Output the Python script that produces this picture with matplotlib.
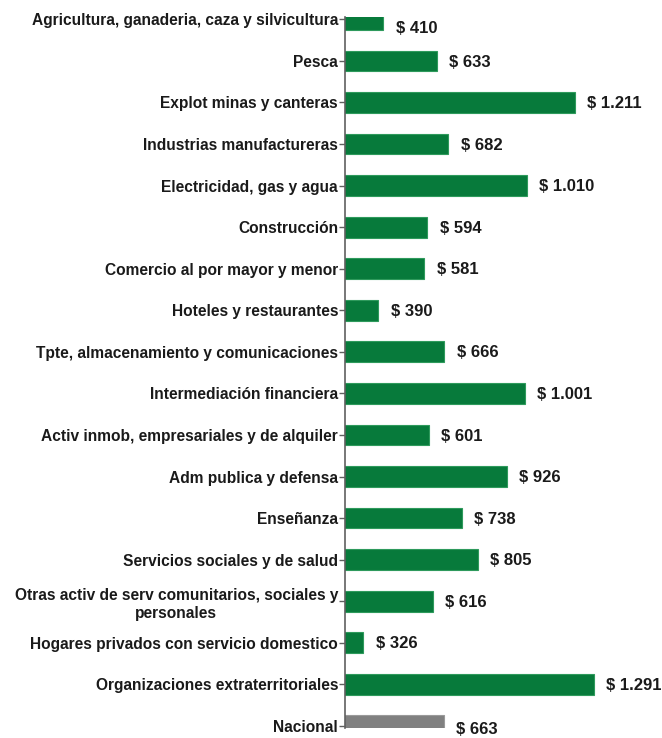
import numpy as np
import matplotlib
matplotlib.use("Agg")
import matplotlib.pyplot as plt

plt.rcParams['font.family'] = ['Liberation Sans', 'DejaVu Sans']

# --- datos ---
categorias = [
    "Agricultura, ganaderia, caza y silvicultura",
    "Pesca",
    "Explot minas y canteras",
    "Industrias manufactureras",
    "Electricidad, gas y agua",
    "Construcción",
    "Comercio al por mayor y menor",
    "Hoteles y restaurantes",
    "Tpte, almacenamiento y comunicaciones",
    "Intermediación financiera",
    "Activ inmob, empresariales y de alquiler",
    "Adm publica y defensa",
    "Enseñanza",
    "Servicios sociales y de salud",
    "Otras activ de serv comunitarios, sociales y\npersonales",
    "Hogares privados con servicio domestico",
    "Organizaciones extraterritoriales",
    "Nacional",
]
valores = [410, 633, 1211, 682, 1010, 594, 581, 390, 666, 1001,
           601, 926, 738, 805, 616, 326, 1291, 663]
etiquetas = ["$ 410", "$ 633", "$ 1.211", "$ 682", "$ 1.010", "$ 594",
             "$ 581", "$ 390", "$ 666", "$ 1.001", "$ 601", "$ 926",
             "$ 738", "$ 805", "$ 616", "$ 326", "$ 1.291", "$ 663"]

verde = "#077a3b"
gris = "#808080"
colores = [verde] * (len(valores) - 1) + [gris]
bordes = ["#2e9a5c"] * (len(valores) - 1) + ["#9a9a9a"]

fig = plt.figure(figsize=(6.62, 7.38), dpi=100)
ax = fig.add_axes([0.5211, 0.0136, 0.4155, 0.963])

y = np.arange(len(categorias))
ax.barh(y, valores, height=0.5, left=0, color=colores,
        edgecolor=bordes, linewidth=0.8)

ax.set_xlim(250, 1400)
ax.set_ylim(len(categorias) - 1 + 0.05, -0.05)

# etiquetas de valor (primera y última barra recortadas: etiqueta algo más abajo)
n = len(valores)
for i, (yi, v, txt) in enumerate(zip(y, valores, etiquetas)):
    dy = -6.5 if i == 0 else (-2.5 if i == n - 1 else -0.8)
    ax.annotate(txt, (v, yi), xytext=(9, dy), textcoords="offset points",
                ha="left", va="center", fontsize=12, fontweight="bold",
                color="#1a1a1a", annotation_clip=False)

ax.set_yticks(y)
ax.set_yticklabels(categorias, fontsize=11.2, fontweight="bold", color="#1a1a1a",
                   linespacing=1.25, multialignment="center")
ax.set_xticks([])
for s in ["top", "right", "bottom"]:
    ax.spines[s].set_visible(False)
ax.spines["left"].set_color("#606060")
ax.spines["left"].set_linewidth(1.2)
ax.tick_params(axis="y", direction="out", length=4, width=1, color="#606060", pad=1)

fig.savefig("out.png", dpi=100)
